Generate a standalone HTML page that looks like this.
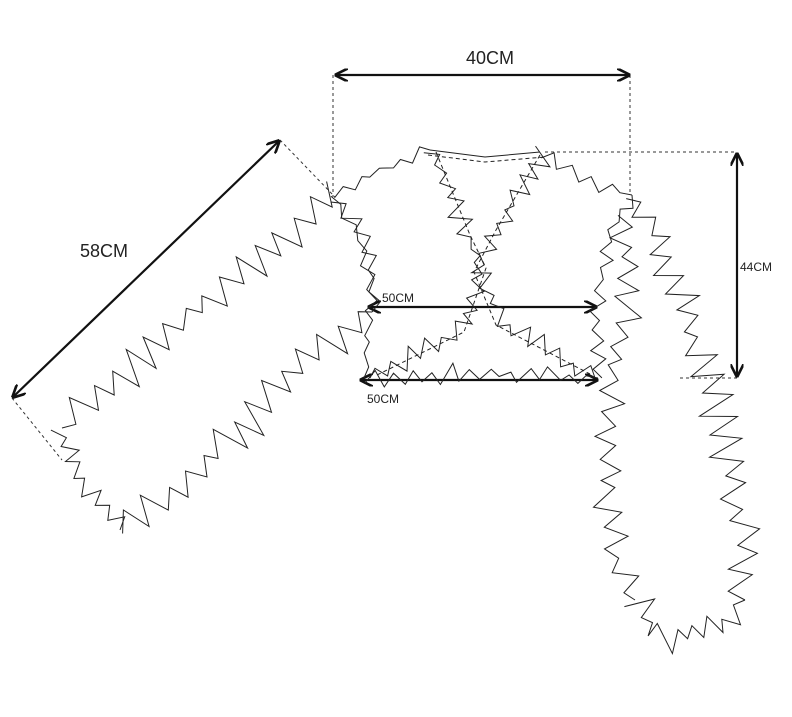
<!DOCTYPE html>
<html><head><meta charset="utf-8"><style>
html,body{margin:0;padding:0;background:#fff;width:792px;height:717px;overflow:hidden}
svg{display:block}
text{font-family:"Liberation Sans",sans-serif;fill:#222}
</style></head><body>
<svg id="s" width="792" height="717" viewBox="0 0 792 717" xmlns="http://www.w3.org/2000/svg">
<defs><marker id="a" viewBox="0 0 10 10" refX="9" refY="5" markerWidth="6" markerHeight="6" orient="auto-start-reverse"><path d="M0,0 L10,5 L0,10" fill="none" stroke="#111" stroke-width="2"/></marker></defs>
<g stroke="#333" stroke-width="1" stroke-dasharray="3,3" fill="none">
<line x1="333" y1="75" x2="333" y2="197"/><line x1="630" y1="75" x2="630" y2="195"/>
<line x1="545" y1="152" x2="737" y2="152"/><line x1="680" y1="378" x2="737" y2="378"/>
<line x1="280" y1="140" x2="335" y2="197"/><line x1="12" y1="398" x2="62" y2="460"/>
</g>
<g stroke="#111" stroke-width="2.2" fill="none">
<line x1="336" y1="75" x2="629" y2="75" marker-start="url(#a)" marker-end="url(#a)"/>
<line x1="737" y1="154" x2="737" y2="376" marker-start="url(#a)" marker-end="url(#a)"/>
<line x1="279" y1="141" x2="13" y2="397" marker-start="url(#a)" marker-end="url(#a)"/>
<line x1="369" y1="307" x2="596" y2="307" marker-start="url(#a)" marker-end="url(#a)"/>
<line x1="361" y1="380" x2="597" y2="380" marker-start="url(#a)" marker-end="url(#a)"/>
</g>
<text x="466" y="64" font-size="18">40CM</text>
<text x="80" y="257" font-size="18">58CM</text>
<text x="740" y="271" font-size="12">44CM</text>
<text x="382" y="302" font-size="12">50CM</text>
<text x="367" y="403" font-size="12">50CM</text>
<g id="g" stroke="#222" stroke-width="1" fill="none"></g>
</svg>
<script>
var seed=11;function r(){seed=(seed*9301+49297)%233280;return seed/233280;}
function zig(pts,amp,step){var out=[];var s=1;
for(var i=0;i<pts.length-1;i++){var a=pts[i],b=pts[i+1];var dx=b[0]-a[0],dy=b[1]-a[1];var L=Math.hypot(dx,dy);var n=Math.max(1,Math.round(L/step));var nx=-dy/L,ny=dx/L;
for(var k=0;k<n;k++){var t=(k+(r()-0.5)*0.5)/n;if(k==0)t=0;var o=s*amp*(0.2+r()*1.3);s=-s;out.push((a[0]+dx*t+nx*o).toFixed(1)+","+(a[1]+dy*t+ny*o).toFixed(1));}}
var e=pts[pts.length-1];out.push(e[0]+","+e[1]);return out.join(" ");}
var g=document.getElementById('g');
function add(pts,amp,step){var p=document.createElementNS("http://www.w3.org/2000/svg","polyline");p.setAttribute("points",zig(pts,amp,step));g.appendChild(p);}
function line(pts,dash){var p=document.createElementNS("http://www.w3.org/2000/svg","polyline");p.setAttribute("points",pts.map(function(q){return q.join(",")}).join(" "));if(dash)p.setAttribute("stroke-dasharray","4,3");g.appendChild(p);}
add([[338,197],[300,225],[200,310],[120,380],[62,428]],14,12);
add([[62,428],[70,470],[120,530]],10,9);
add([[120,530],[200,470],[300,370],[372,312]],14,12);
add([[338,197],[360,230],[372,270],[372,312]],7,10);
add([[333,195],[380,170],[430,150]],6,10);
add([[545,152],[590,180],[632,195]],6,10);
line([[430,150],[485,157],[540,152]]);
line([[428,155],[485,162],[545,157]],true);
add([[333,195],[362,240],[372,300],[364,378]],5,12);
add([[364,378],[480,372],[598,378]],7,10);
add([[598,378],[596,320],[608,240],[632,195]],6,10);
add([[430,150],[465,230],[482,265],[460,330],[370,378]],8,9);
add([[545,152],[500,225],[478,270],[500,322],[595,378]],8,9);
line([[436,152],[470,235],[486,268],[464,332],[375,376]],true);
line([[540,155],[496,230],[474,272],[496,325],[590,374]],true);
add([[632,195],[660,240],[690,330],[720,420],[740,520],[745,600]],14,11);
add([[625,215],[630,300],[610,380],[605,480],[615,560],[635,600]],12,11);
add([[635,600],[660,640],[720,630],[745,600]],12,9);
</script>
</body></html>
